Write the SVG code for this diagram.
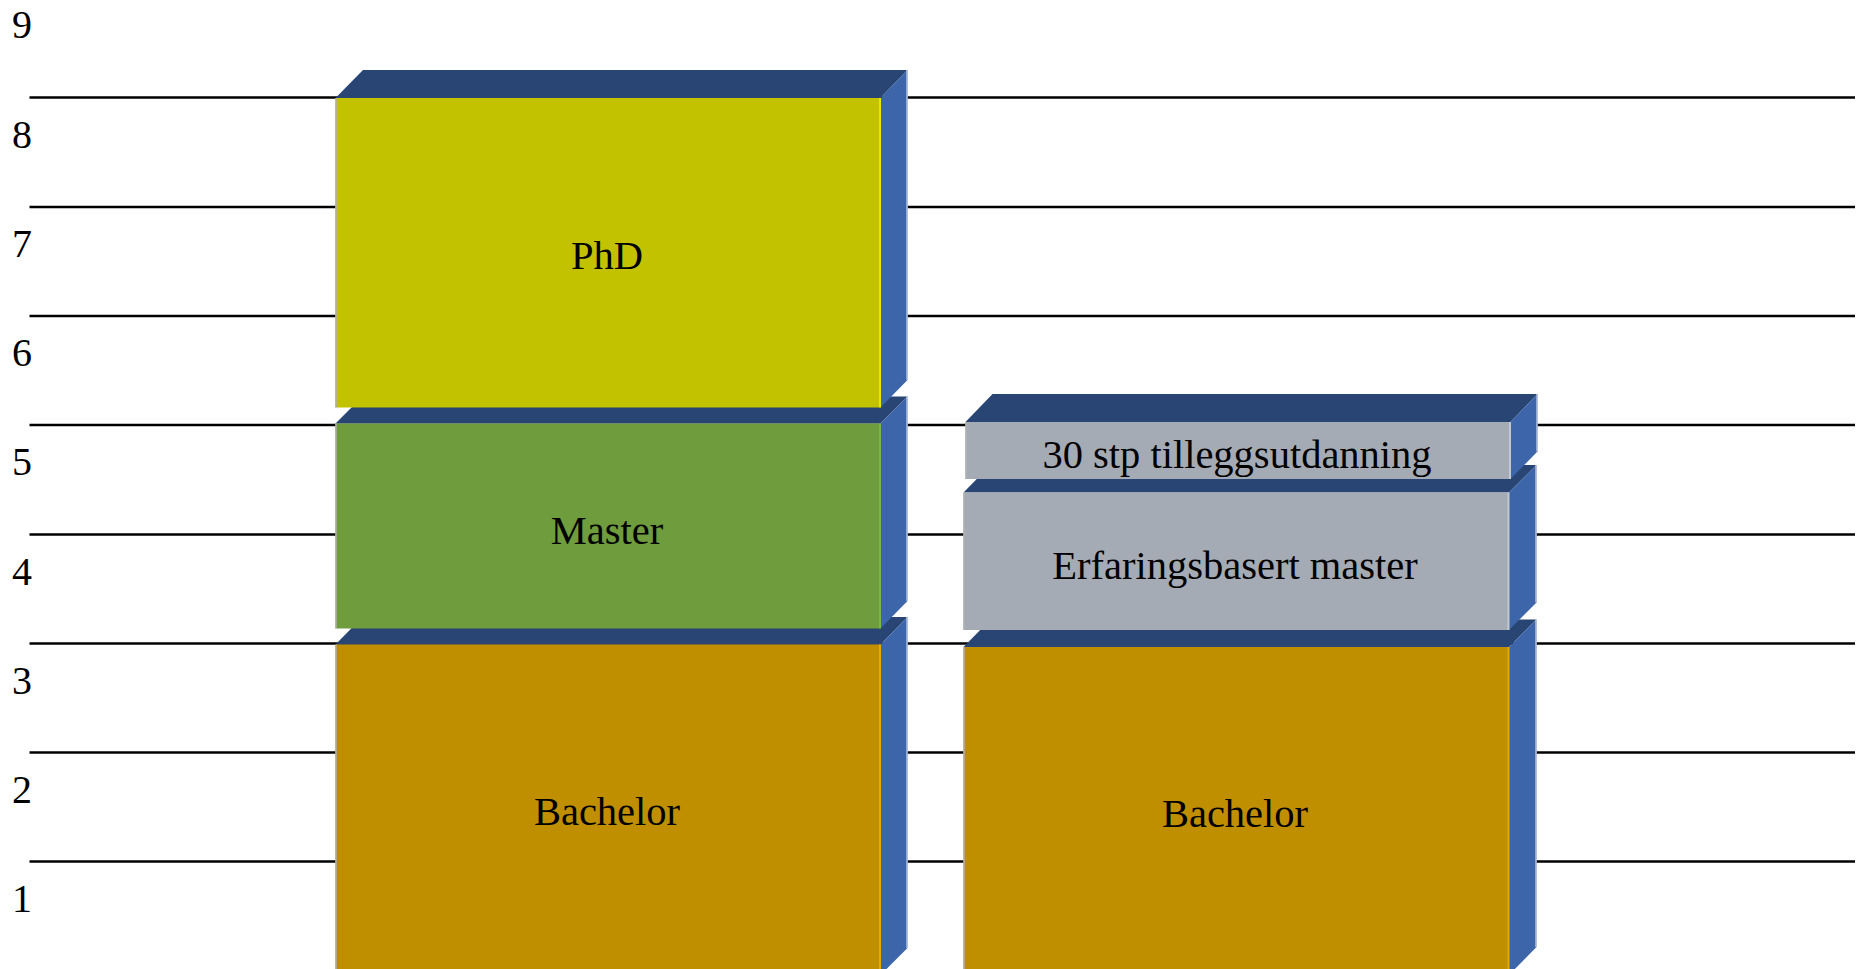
<svg xmlns="http://www.w3.org/2000/svg" width="1861" height="969" viewBox="0 0 1861 969">
<style>
.grid line{stroke:#000;stroke-width:2.6}
.num{font-family:"Liberation Serif","Times New Roman",serif;font-size:40px;fill:#000}
.lbl{font-family:"Liberation Serif","Times New Roman",serif;font-size:40.5px;fill:#000;text-anchor:middle}
.top{fill:#284573}
.side{fill:#3C65AA}
.sideEdge{stroke:#B7C4DE;stroke-width:1.5}
.phd{fill:#C2C200}
.master{fill:#6F9C3D}
.bach{fill:#C08F00}
.gray{fill:#A5ABB5}
.ledge{stroke:#B0B0B0;stroke-width:1.5}
.redgeY{stroke:#E6E600;stroke-width:2}
.redgeG{stroke:#7FB347;stroke-width:2}
.redgeB{stroke:#E3AA00;stroke-width:2}
.redgeS{stroke:#C3C8D0;stroke-width:2}
</style>
<rect width="1861" height="969" fill="#fff"/>
<g id="axis-labels" class="num">
<text x="12" y="38">9</text>
<text x="12" y="147.5">8</text>
<text x="12" y="256.5">7</text>
<text x="12" y="366">6</text>
<text x="12" y="475">5</text>
<text x="12" y="584.5">4</text>
<text x="12" y="693.5">3</text>
<text x="12" y="802.5">2</text>
<text x="12" y="912">1</text>
</g>
<g id="grid" class="grid">
<line x1="29.5" y1="97.5" x2="1855" y2="97.5"/>
<line x1="29.5" y1="207" x2="1855" y2="207"/>
<line x1="29.5" y1="316" x2="1855" y2="316"/>
<line x1="29.5" y1="425" x2="1855" y2="425"/>
<line x1="29.5" y1="534.5" x2="1855" y2="534.5"/>
<line x1="29.5" y1="643.5" x2="1855" y2="643.5"/>
<line x1="29.5" y1="752.5" x2="1855" y2="752.5"/>
<line x1="29.5" y1="861.5" x2="1855" y2="861.5"/>
</g>
<g id="bachelor-left">
<polygon class="top" points="335.5,644.5 362.5,617 907.5,617 880.5,644.5"/>
<polygon class="side" points="880.5,644.5 907.5,617 907.5,948 880.5,975"/>
<line class="sideEdge" x1="907" y1="617" x2="907" y2="948"/>
<rect class="bach" x="335.5" y="644.5" width="545" height="331"/>
<line class="ledge" x1="336" y1="644.5" x2="336" y2="975"/>
<line class="redgeB" x1="880" y1="644.5" x2="880" y2="975"/>
<text class="lbl" x="607" y="825">Bachelor</text>
</g>
<g id="master">
<polygon class="top" points="335.5,423.5 362.5,396.5 907.5,396.5 880.5,423.5"/>
<polygon class="side" points="880.5,423.5 907.5,396.5 907.5,601 880.5,628.5"/>
<line class="sideEdge" x1="907" y1="396.5" x2="907" y2="601"/>
<rect class="master" x="335.5" y="423.5" width="545" height="205"/>
<line class="ledge" x1="336" y1="423.5" x2="336" y2="628.5"/>
<line class="redgeG" x1="880" y1="423.5" x2="880" y2="628.5"/>
<text class="lbl" x="607" y="544">Master</text>
</g>
<g id="phd">
<polygon class="top" points="335.5,98 363,70 907.5,70 880.5,98"/>
<polygon class="side" points="880.5,98 907.5,70 907.5,380 880.5,407.5"/>
<line class="sideEdge" x1="907" y1="70" x2="907" y2="380"/>
<rect class="phd" x="335.5" y="98" width="545" height="309.5"/>
<line class="ledge" x1="336" y1="98" x2="336" y2="407.5"/>
<line class="redgeY" x1="880" y1="98" x2="880" y2="407.5"/>
<text class="lbl" x="607" y="268.5">PhD</text>
</g>
<g id="bachelor-right">
<polygon class="top" points="963.5,647 990.5,619.5 1536.5,619.5 1509,647"/>
<polygon class="side" points="1509,647 1536.5,619.5 1536.5,947 1509,975"/>
<line class="sideEdge" x1="1536" y1="619.5" x2="1536" y2="947"/>
<rect class="bach" x="963.5" y="647" width="545.5" height="328"/>
<line class="ledge" x1="964" y1="647" x2="964" y2="975"/>
<line class="redgeB" x1="1508.5" y1="647" x2="1508.5" y2="975"/>
<text class="lbl" x="1235" y="826.5">Bachelor</text>
</g>
<g id="erfaringsbasert-master">
<polygon class="top" points="963.5,492.5 990.5,465 1536.5,465 1509,492.5"/>
<polygon class="side" points="1509,492.5 1536.5,465 1536.5,602.5 1509,630"/>
<line class="sideEdge" x1="1536" y1="465" x2="1536" y2="602.5"/>
<rect class="gray" x="963.5" y="492.5" width="545.5" height="137.5"/>
<line class="ledge" x1="964" y1="492.5" x2="964" y2="630"/>
<line class="redgeS" x1="1508.5" y1="492.5" x2="1508.5" y2="630"/>
<text class="lbl" x="1235" y="578.5">Erfaringsbasert master</text>
</g>
<g id="tilleggsutdanning">
<polygon class="top" points="965.5,422 992.5,394 1537.5,394 1510.5,422"/>
<polygon class="side" points="1510.5,422 1537.5,394 1537.5,451.5 1510.5,479"/>
<line class="sideEdge" x1="1537" y1="394" x2="1537" y2="451.5"/>
<rect class="gray" x="965.5" y="422" width="545" height="57"/>
<line class="ledge" x1="966" y1="422" x2="966" y2="479"/>
<line class="redgeS" x1="1510" y1="422" x2="1510" y2="479"/>
<text class="lbl" x="1237" y="467.5">30 stp tilleggsutdanning</text>
</g>
</svg>
